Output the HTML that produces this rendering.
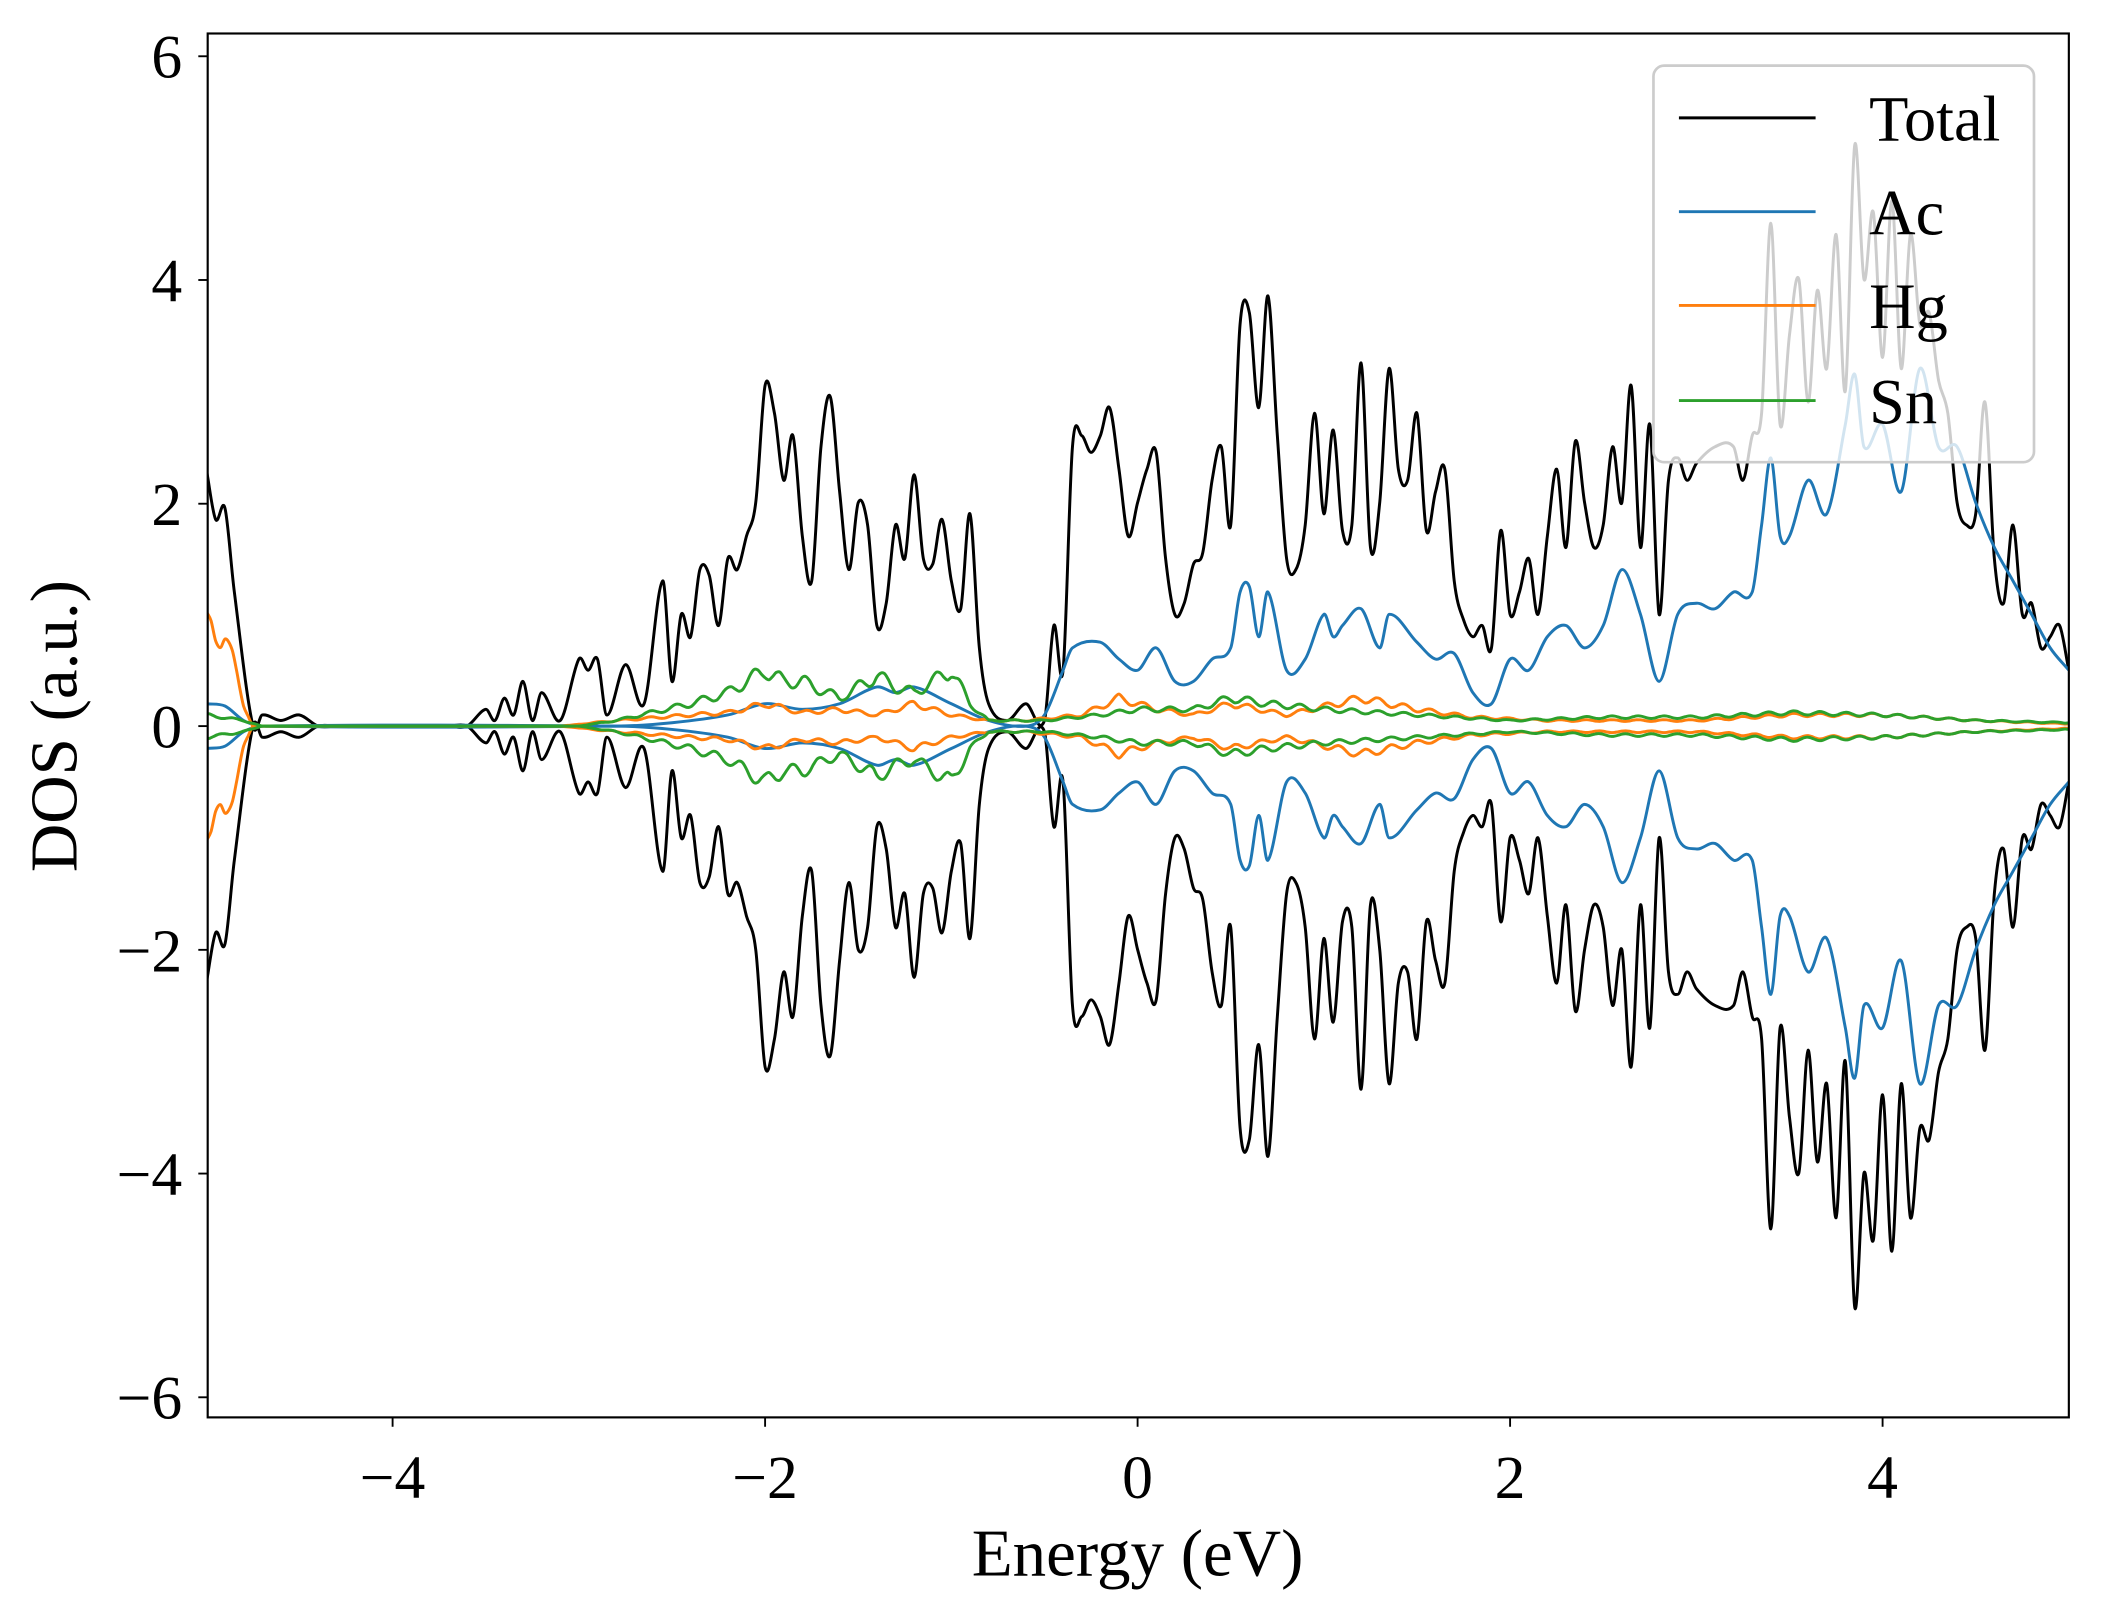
<!DOCTYPE html>
<html><head><meta charset="utf-8"><style>html,body{margin:0;padding:0;background:#fff}svg{display:block}</style></head>
<body>
<svg id="s" width="2101" height="1617" viewBox="0 0 1568 1207" preserveAspectRatio="none" xmlns="http://www.w3.org/2000/svg" font-family="'Liberation Serif', serif">
<rect width="1568" height="1207" fill="#fff"/>
<g id="plot"></g>
<rect x="155" y="25" width="1389" height="1033" fill="none" stroke="#000" stroke-width="1.6"/>
<g stroke="#000" stroke-width="1.4">
<line x1="155" y1="42" x2="148" y2="42"/><line x1="155" y1="209" x2="148" y2="209"/><line x1="155" y1="376" x2="148" y2="376"/><line x1="155" y1="542" x2="148" y2="542"/><line x1="155" y1="709" x2="148" y2="709"/><line x1="155" y1="876" x2="148" y2="876"/><line x1="155" y1="1043" x2="148" y2="1043"/>
<line x1="293" y1="1058" x2="293" y2="1065"/><line x1="571" y1="1058" x2="571" y2="1065"/><line x1="849" y1="1058" x2="849" y2="1065"/><line x1="1127" y1="1058" x2="1127" y2="1065"/><line x1="1405" y1="1058" x2="1405" y2="1065"/>
</g>
<g font-size="46" text-anchor="end">
<text x="136" y="58">6</text><text x="136" y="225">4</text><text x="136" y="392">2</text><text x="136" y="558">0</text><text x="136" y="725">−2</text><text x="136" y="892">−4</text><text x="136" y="1059">−6</text>
</g>
<g font-size="46" text-anchor="middle">
<text x="293" y="1118">−4</text><text x="571" y="1118">−2</text><text x="849" y="1118">0</text><text x="1127" y="1118">2</text><text x="1405" y="1118">4</text>
</g>
<text x="849" y="1176" font-size="50" text-anchor="middle">Energy (eV)</text>
<text transform="translate(57,542) rotate(-90)" font-size="50" text-anchor="middle">DOS (a.u.)</text>
<rect x="1234" y="49" width="284" height="296" rx="8" fill="#fff" fill-opacity="0.8" stroke="#ccc" stroke-width="2"/>
<g stroke-width="2.2">
<line x1="1253" y1="88" x2="1355" y2="88" stroke="#000"/>
<line x1="1253" y1="158" x2="1355" y2="158" stroke="#1f77b4"/>
<line x1="1253" y1="228" x2="1355" y2="228" stroke="#ff7f0e"/>
<line x1="1253" y1="299" x2="1355" y2="299" stroke="#2ca02c"/>
</g>
<g font-size="48">
<text x="1395" y="105">Total</text><text x="1395" y="175">Ac</text><text x="1395" y="245">Hg</text><text x="1395" y="316">Sn</text>
</g>
</svg>
<script>
var T=[[-5,2.3],[-4.95,1.85],[-4.9,1.95],[-4.85,1.2],[-4.75,0],[-4.7,0.1],[-4.6,0.05],[-4.5,0.1],[-4.4,0],[-4.3,0],[-3.7,0],[-3.6,0],[-3.5,0.15],[-3.45,0.05],[-3.4,0.25],[-3.35,0.1],[-3.3,0.4],[-3.25,0.05],[-3.2,0.3],[-3.1,0.05],[-3.0,0.6],[-2.95,0.5],[-2.9,0.6],[-2.85,0.1],[-2.75,0.55],[-2.65,0.2],[-2.55,1.3],[-2.5,0.4],[-2.45,1.0],[-2.4,0.8],[-2.35,1.4],[-2.3,1.35],[-2.25,0.9],[-2.2,1.5],[-2.15,1.4],[-2.1,1.7],[-2.05,2.0],[-2.0,3.05],[-1.95,2.8],[-1.9,2.2],[-1.85,2.6],[-1.8,1.7],[-1.75,1.3],[-1.7,2.5],[-1.65,2.95],[-1.6,2.1],[-1.55,1.4],[-1.5,2.0],[-1.45,1.8],[-1.4,0.9],[-1.35,1.1],[-1.3,1.8],[-1.25,1.5],[-1.2,2.25],[-1.15,1.5],[-1.1,1.45],[-1.05,1.85],[-1.0,1.3],[-0.95,1.05],[-0.9,1.9],[-0.85,0.7],[-0.8,0.2],[-0.7,0.05],[-0.6,0.2],[-0.5,0.05],[-0.45,0.9],[-0.4,0.5],[-0.35,2.5],[-0.3,2.6],[-0.25,2.45],[-0.2,2.6],[-0.15,2.85],[-0.1,2.3],[-0.05,1.7],[0,2.0],[0.05,2.3],[0.1,2.45],[0.15,1.5],[0.2,1.0],[0.25,1.1],[0.3,1.45],[0.35,1.55],[0.4,2.2],[0.45,2.5],[0.5,1.8],[0.55,3.6],[0.6,3.7],[0.65,2.85],[0.7,3.85],[0.75,2.6],[0.8,1.5],[0.85,1.4],[0.9,1.8],[0.95,2.8],[1.0,1.9],[1.05,2.65],[1.1,1.75],[1.15,1.8],[1.2,3.25],[1.25,1.6],[1.3,2.0],[1.35,3.2],[1.4,2.3],[1.45,2.2],[1.5,2.8],[1.55,1.75],[1.6,2.1],[1.65,2.3],[1.7,1.3],[1.75,0.95],[1.8,0.8],[1.85,0.9],[1.9,0.7],[1.95,1.75],[2.0,1.0],[2.05,1.2],[2.1,1.5],[2.15,1.0],[2.2,1.7],[2.25,2.3],[2.3,1.6],[2.35,2.55],[2.4,2.0],[2.45,1.6],[2.5,1.8],[2.55,2.5],[2.6,2.0],[2.65,3.05],[2.7,1.6],[2.75,2.7],[2.8,1.0],[2.85,2.2],[2.9,2.4],[2.95,2.2],[3.0,2.35],[3.1,2.5],[3.2,2.5],[3.25,2.2],[3.3,2.6],[3.35,2.8],[3.4,4.5],[3.45,2.7],[3.5,3.5],[3.55,4.0],[3.6,2.9],[3.65,3.9],[3.7,3.2],[3.75,4.4],[3.8,3.0],[3.85,5.2],[3.9,4.0],[3.95,4.6],[4.0,3.3],[4.05,4.7],[4.1,3.2],[4.15,4.4],[4.2,3.6],[4.25,3.7],[4.3,3.1],[4.35,2.8],[4.4,2.0],[4.45,1.8],[4.5,1.9],[4.55,2.9],[4.6,1.5],[4.65,1.1],[4.7,1.8],[4.75,1.0],[4.8,1.1],[4.85,0.7],[4.9,0.8],[4.95,0.9],[5.0,0.5]];
var A=[[-5,0.2],[-4.9,0.18],[-4.8,0.05],[-4.7,0],[-2.8,0],[-2.5,0.03],[-2.2,0.1],[-2.0,0.2],[-1.8,0.15],[-1.6,0.2],[-1.4,0.35],[-1.3,0.3],[-1.2,0.35],[-1.0,0.2],[-0.8,0.05],[-0.6,0],[-0.5,0.1],[-0.4,0.5],[-0.35,0.7],[-0.2,0.75],[-0.1,0.6],[0,0.5],[0.1,0.7],[0.2,0.4],[0.3,0.4],[0.4,0.6],[0.5,0.7],[0.55,1.2],[0.6,1.25],[0.65,0.8],[0.7,1.2],[0.8,0.5],[0.9,0.6],[1.0,1.0],[1.05,0.8],[1.1,0.9],[1.2,1.05],[1.3,0.7],[1.35,1.0],[1.5,0.75],[1.6,0.6],[1.7,0.65],[1.8,0.3],[1.9,0.2],[2.0,0.6],[2.1,0.5],[2.2,0.8],[2.3,0.9],[2.4,0.7],[2.5,0.9],[2.6,1.4],[2.7,1.0],[2.8,0.4],[2.9,1.0],[3.0,1.1],[3.1,1.05],[3.2,1.2],[3.3,1.2],[3.35,1.8],[3.4,2.4],[3.45,1.7],[3.5,1.7],[3.6,2.2],[3.7,1.9],[3.8,2.7],[3.85,3.15],[3.9,2.5],[4.0,2.7],[4.1,2.1],[4.2,3.2],[4.3,2.5],[4.4,2.5],[4.5,2.0],[4.6,1.6],[4.7,1.3],[4.8,1.0],[4.9,0.7],[5.0,0.5]];
var H=[[-5,0.9],[-4.95,0.8],[-4.9,0.85],[-4.8,0.2],[-4.75,0],[-3.1,0],[-2.8,0.05],[-2.4,0.1],[-2.2,0.12],[-2.0,0.2],[-1.8,0.12],[-1.6,0.15],[-1.4,0.1],[-1.2,0.2],[-1.0,0.1],[-0.8,0.05],[-0.6,0.05],[-0.3,0.1],[-0.1,0.25],[0.1,0.15],[0.3,0.1],[0.5,0.2],[0.8,0.1],[1.2,0.25],[1.5,0.15],[1.8,0.08],[2.2,0.05],[2.6,0.05],[3.0,0.05],[3.5,0.1],[4.0,0.1],[4.5,0.05],[5,0.02]];
var S=[[-5,0.1],[-4.8,0.05],[-4.7,0],[-3.0,0],[-2.8,0.05],[-2.4,0.2],[-2.2,0.3],[-2.0,0.5],[-1.9,0.4],[-1.8,0.4],[-1.6,0.25],[-1.4,0.45],[-1.3,0.35],[-1.2,0.3],[-1.0,0.5],[-0.9,0.2],[-0.8,0.05],[-0.5,0.05],[-0.2,0.1],[0,0.15],[0.3,0.15],[0.5,0.25],[0.7,0.2],[1.0,0.15],[1.5,0.1],[2.0,0.05],[2.5,0.08],[3.0,0.08],[3.5,0.12],[4.0,0.1],[4.5,0.05],[5,0.03]];
function X(e){return 849+139*e} function Y(v){return 542-83.4*v}
function dense(d,wig){var r=[];for(var i=0;i<d.length-1;i++){var a=d[i],b=d[i+1];var steps=wig?Math.max(1,Math.round((b[0]-a[0])/0.02)):1;for(var k=0;k<steps;k++){var t=k/steps,e=a[0]+(b[0]-a[0])*t,v=a[1]+(b[1]-a[1])*t;if(wig&&v>0.02)v+=v*0.15*Math.sin(e*45);r.push([e,v]);}}r.push(d[d.length-1]);return r;}
function path(d,sign,wig){var p=dense(d,wig).map(function(q){return [X(q[0]),Y(sign*q[1])]});var n=p.length,m=[];for(var i=0;i<n;i++){var a=p[Math.max(0,i-1)],b=p[Math.min(n-1,i+1)];m.push((b[1]-a[1])/(b[0]-a[0]));}
var s="M"+p[0][0].toFixed(1)+","+p[0][1].toFixed(1);for(var i=0;i<n-1;i++){var p1=p[i],p2=p[i+1],dx=(p2[0]-p1[0])/3;s+="C"+(p1[0]+dx).toFixed(1)+","+(p1[1]+m[i]*dx).toFixed(1)+" "+(p2[0]-dx).toFixed(1)+","+(p2[1]-m[i+1]*dx).toFixed(1)+" "+p2[0].toFixed(1)+","+p2[1].toFixed(1);}return s;}
var g=document.getElementById("plot"),out="";
[[T,"#000"],[A,"#1f77b4"],[H,"#ff7f0e"],[S,"#2ca02c"]].forEach(function(p,i){var w=i>=2;out+='<path d="'+path(p[0],1,w)+'" fill="none" stroke="'+p[1]+'" stroke-width="2.2" stroke-linejoin="round"/>';out+='<path d="'+path(p[0],-1,w)+'" fill="none" stroke="'+p[1]+'" stroke-width="2.2" stroke-linejoin="round"/>';});
g.innerHTML='<clipPath id="c"><rect x="155" y="25" width="1389" height="1033"/></clipPath><g clip-path="url(#c)">'+out+'</g>';
</script>
</body></html>
